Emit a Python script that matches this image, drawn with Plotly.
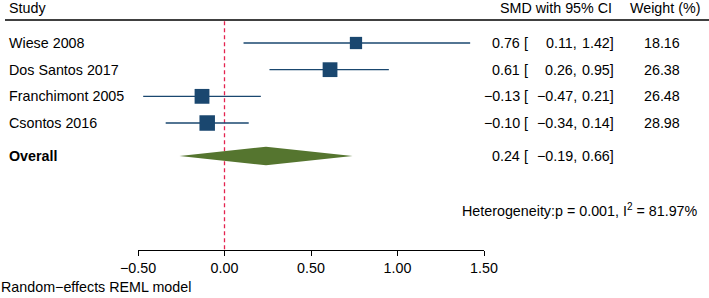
import plotly.graph_objects as go
import numpy as np

# ---- data ----
studies = ["Wiese 2008", "Dos Santos 2017", "Franchimont 2005", "Csontos 2016"]
smd = [0.76, 0.61, -0.13, -0.10]
ci_low = [0.11, 0.26, -0.47, -0.34]
ci_high = [1.42, 0.95, 0.21, 0.14]
weights = [18.16, 26.38, 26.48, 28.98]
overall_smd = 0.24
overall_low = -0.19
overall_high = 0.66
diamond_low = -0.26   # drawn extent
diamond_high = 0.74
het_text = "Heterogeneity:p = 0.001, I<sup>2</sup> = 81.97%"
tick_vals = [-0.5, 0.0, 0.5, 1.0, 1.5]

# ---- layout helpers ----
W, H = 709, 298
FONT = "Liberation Sans, Arial, Helvetica, sans-serif"
FS = 14.3
BLUE = "#1a476f"
GREEN = "#55752f"
RED = "#e4234f"

ROW_PX = 26.67
Y0_PX = 16.33
def yv(px):
    return (px - Y0_PX) / ROW_PX

rows = [1, 2, 3, 4]
overall_row = yv(156)
het_row = yv(210)
header_row = yv(8)
hline_row = yv(20)
y_top = yv(0)
y_bot = yv(250)

def fmt(v):
    s = f"{v:.2f}"
    return s.replace("-", "\u2212")

fig = go.Figure()

# CI lines + squares
sizes = [15.5 * np.sqrt(w / max(weights)) for w in weights]
fig.add_trace(go.Scatter(
    x=smd, y=rows, mode="markers",
    marker=dict(symbol="square", size=sizes, color=BLUE, opacity=1, line=dict(width=0)),
    error_x=dict(type="data", symmetric=False,
                 array=[h - e for h, e in zip(ci_high, smd)],
                 arrayminus=[e - l for e, l in zip(smd, ci_low)],
                 width=0, thickness=1.3, color=BLUE),
    hoverinfo="skip", showlegend=False))

# overall diamond
hh = 9.2 / ROW_PX
fig.add_trace(go.Scatter(
    x=[diamond_low, overall_smd, diamond_high, overall_smd, diamond_low],
    y=[overall_row, overall_row - hh, overall_row, overall_row + hh, overall_row],
    mode="lines", fill="toself", fillcolor=GREEN, line=dict(width=0, color=GREEN),
    hoverinfo="skip", showlegend=False))

# null line
fig.add_shape(type="line", x0=0, x1=0, y0=hline_row + 0.05, y1=y_bot,
              xref="x", yref="y", line=dict(color=RED, width=1.3, dash="4px,3px"),
              layer="below")
# header rule
fig.add_shape(type="line", x0=5 / W, x1=1, y0=hline_row, y1=hline_row,
              xref="paper", yref="y", line=dict(color="black", width=1.5))

ann = []
def text(x_px, y, t, anchor="left", bold=False, yref="y"):
    if bold:
        t = f"<b>{t}</b>"
    ann.append(dict(x=x_px / W, xref="paper", y=y, yref=yref, text=t,
                    showarrow=False, xanchor=anchor, yanchor="middle",
                    borderpad=0,
                    font=dict(family=FONT, size=FS, color="black")))

EST_R, BR_L, LO_R, HI_R, WT_R = 521, 523, 578, 615, 681

# headers
text(8, header_row, "Study")
text(613, header_row, "SMD with 95% CI", "right")
text(701, header_row, "Weight (%)", "right")

for r, s, e, l, h, w in zip(rows, studies, smd, ci_low, ci_high, weights):
    text(8, r, s)
    text(EST_R, r, fmt(e), "right")
    text(BR_L, r, "[")
    text(LO_R, r, fmt(l) + ",", "right")
    text(HI_R, r, fmt(h) + "]", "right")
    text(WT_R, r, f"{w:.2f}", "right")

text(8, overall_row, "Overall", bold=True)
text(EST_R, overall_row, fmt(overall_smd), "right")
text(BR_L, overall_row, "[")
text(LO_R, overall_row, fmt(overall_low) + ",", "right")
text(HI_R, overall_row, fmt(overall_high) + "]", "right")

text(699, het_row, het_text, "right")
text(0, (H - 287) / H, "Random\u2212effects REML model", yref="paper")

fig.update_layout(
    template="none",
    width=W, height=H, margin=dict(l=0, r=0, t=0, b=0, pad=0), autosize=False,
    paper_bgcolor="white", plot_bgcolor="white",
    annotations=ann, showlegend=False,
    xaxis=dict(domain=[138 / W, 484 / W], range=[-0.5, 1.5],
               tickvals=tick_vals, tickformat=".2f", automargin=False,
               showline=True, linecolor="black", linewidth=1.2,
               ticks="outside", ticklen=5, tickwidth=1.2, tickcolor="black",
               showgrid=False, zeroline=False, anchor="y",
               tickfont=dict(family=FONT, size=FS, color="black")),
    yaxis=dict(domain=[(H - 250) / H, 1], range=[y_bot, y_top], automargin=False,
               visible=False, showgrid=False, zeroline=False),
)

fig.write_html("out.html", config={"displayModeBar": False},
               post_script="document.body.style.margin='0';")
